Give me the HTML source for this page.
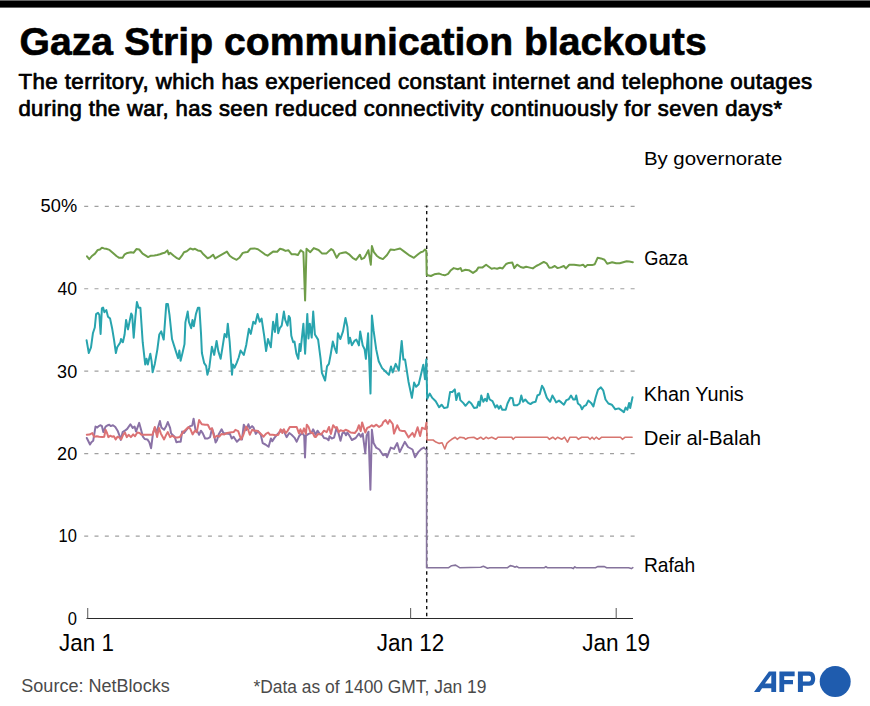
<!DOCTYPE html>
<html><head><meta charset="utf-8"><style>
html,body{margin:0;padding:0;background:#fff;}
body{width:870px;height:706px;overflow:hidden;}
svg{display:block;font-family:"Liberation Sans",sans-serif;}
</style></head><body>
<svg width="870" height="706" viewBox="0 0 870 706">
<rect x="0" y="0.4" width="870" height="7.2" fill="#000"/>
<text transform="translate(19.60 54.50) scale(0.9899 1)" font-size="39.54" font-weight="bold" fill="#000" stroke="#000" stroke-width="0.6" stroke-linejoin="round">Gaza Strip communication blackouts</text>
<text transform="translate(18.40 88.80) scale(1.0386 1)" font-size="21.51" font-weight="normal" fill="#000" stroke="#000" stroke-width="0.75" stroke-linejoin="round" letter-spacing="0.4">The territory, which has experienced constant internet and telephone outages</text>
<text transform="translate(18.40 116.40) scale(1.0250 1)" font-size="21.51" font-weight="normal" fill="#000" stroke="#000" stroke-width="0.75" stroke-linejoin="round" letter-spacing="0.4">during the war, has seen reduced connectivity continuously for seven days*</text>
<text transform="translate(643.90 164.80) scale(1.0800 1)" font-size="18.90" font-weight="normal" fill="#000">By governorate</text>
<text transform="translate(40.60 212.40) scale(0.9653 1)" font-size="18.90" font-weight="normal" fill="#000">50%</text>
<text transform="translate(57.40 294.80) scale(0.9280 1)" font-size="18.90" font-weight="normal" fill="#000">40</text>
<text transform="translate(57.10 377.50) scale(0.9566 1)" font-size="18.90" font-weight="normal" fill="#000">30</text>
<text transform="translate(57.10 460.20) scale(0.9566 1)" font-size="18.90" font-weight="normal" fill="#000">20</text>
<text transform="translate(58.60 542.20) scale(0.8709 1)" font-size="18.90" font-weight="normal" fill="#000">10</text>
<text transform="translate(67.80 624.70) scale(0.8757 1)" font-size="18.90" font-weight="normal" fill="#000">0</text>
<text transform="translate(59.10 650.70) scale(0.9634 1)" font-size="23.26" font-weight="normal" fill="#000">Jan 1</text>
<text transform="translate(376.70 651.00) scale(0.9683 1)" font-size="23.26" font-weight="normal" fill="#000">Jan 12</text>
<text transform="translate(582.20 651.00) scale(0.9740 1)" font-size="23.26" font-weight="normal" fill="#000">Jan 19</text>
<text transform="translate(644.30 265.00) scale(0.9433 1)" font-size="19.33" font-weight="normal" fill="#000">Gaza</text>
<text transform="translate(643.80 401.00) scale(1.0260 1)" font-size="19.33" font-weight="normal" fill="#000">Khan Yunis</text>
<text transform="translate(643.80 444.70) scale(1.0489 1)" font-size="19.33" font-weight="normal" fill="#000">Deir al-Balah</text>
<text transform="translate(643.90 571.70) scale(0.9946 1)" font-size="19.33" font-weight="normal" fill="#000">Rafah</text>
<text transform="translate(21.30 692.40) scale(0.9554 1)" font-size="18.90" font-weight="normal" fill="#4a4a4a">Source: NetBlocks</text>
<text transform="translate(253.40 693.40) scale(0.9212 1)" font-size="18.90" font-weight="normal" fill="#4a4a4a">*Data as of 1400 GMT, Jan 19</text>
<line x1="84.2" y1="536.06" x2="635" y2="536.06" stroke="#a0a0a0" stroke-width="1.2" stroke-dasharray="4 6.31" stroke-dashoffset="0"/>
<line x1="84.2" y1="453.62" x2="635" y2="453.62" stroke="#a0a0a0" stroke-width="1.2" stroke-dasharray="4 6.31" stroke-dashoffset="0"/>
<line x1="84.2" y1="371.18" x2="635" y2="371.18" stroke="#a0a0a0" stroke-width="1.2" stroke-dasharray="4 6.31" stroke-dashoffset="0"/>
<line x1="84.2" y1="288.74" x2="635" y2="288.74" stroke="#a0a0a0" stroke-width="1.2" stroke-dasharray="4 6.31" stroke-dashoffset="0"/>
<line x1="84.2" y1="206.30" x2="635" y2="206.30" stroke="#a0a0a0" stroke-width="1.2" stroke-dasharray="4 6.31" stroke-dashoffset="0"/>
<line x1="86.5" y1="618.5" x2="633" y2="618.5" stroke="#2a2a2a" stroke-width="1.15"/>
<line x1="87.7" y1="608" x2="87.7" y2="618.5" stroke="#666" stroke-width="1.1"/>
<line x1="410.6" y1="608" x2="410.6" y2="618.5" stroke="#666" stroke-width="1.1"/>
<line x1="616.2" y1="608" x2="616.2" y2="618.5" stroke="#666" stroke-width="1.1"/>
<line x1="426.7" y1="205.4" x2="426.7" y2="618.5" stroke="#111" stroke-width="1.4" stroke-dasharray="3.45 3.48" stroke-dashoffset="1.43"/>
<polyline points="86.8,438.0 90.0,444.5 91.4,442.2 93.2,440.8 95.5,426.6 97.3,427.5 98.7,426.1 100.6,425.2 101.9,426.1 103.3,432.1 105.6,426.6 107.9,425.2 109.3,424.7 110.7,426.1 113.0,425.2 115.3,427.0 117.6,430.7 119.4,435.3 120.8,439.9 122.6,432.1 124.9,430.7 127.2,428.9 130.4,424.3 132.7,427.9 134.6,426.6 136.0,431.6 139.2,422.9 140.6,427.9 142.9,436.7 144.7,439.0 147.4,439.4 149.3,442.2 151.1,448.2 153.0,433.4 154.8,427.9 156.6,432.1 159.9,421.0 161.4,427.5 164.1,429.8 166.0,426.6 167.8,422.0 170.1,427.9 171.0,433.0 172.4,434.8 174.7,436.7 176.4,442.2 178.4,441.7 180.7,441.7 182.1,431.6 183.9,433.0 187.6,428.4 190.3,426.1 192.2,425.6 193.6,418.7 195.4,429.3 197.2,431.1 199.1,434.8 200.9,430.7 202.8,433.4 205.1,438.5 207.8,438.5 210.1,437.1 212.0,428.4 213.8,433.9 215.6,442.6 217.0,440.3 218.9,433.9 221.6,429.3 223.4,433.0 226.2,433.4 229.9,433.9 231.7,438.5 233.6,436.7 236.9,441.7 239.7,439.0 242.0,439.4 243.8,424.7 246.1,430.2 248.4,424.3 249.8,428.4 252.1,426.1 253.5,427.5 255.8,433.9 258.1,431.1 260.8,434.8 262.7,443.1 265.4,444.5 268.6,446.8 270.9,438.5 272.3,441.3 274.6,437.6 276.5,435.3 279.2,432.5 282.0,430.2 284.3,432.1 286.6,437.1 289.3,433.0 291.6,434.8 294.4,437.6 296.7,441.7 299.4,435.7 302.2,433.0 304.2,435.7 305.0,457.4 305.9,435.7 308.6,433.9 311.4,433.0 313.1,429.3 315.7,434.8 317.5,430.7 319.4,433.4 322.1,434.8 324.0,438.0 326.7,438.5 328.6,440.3 329.5,436.2 331.8,438.5 334.1,437.6 336.4,428.4 338.2,432.1 340.5,440.8 342.3,433.4 344.2,432.1 346.0,435.3 347.4,432.5 349.2,435.3 351.9,440.0 355.7,438.0 358.9,433.6 360.8,436.8 362.7,433.6 365.3,453.3 366.6,435.5 368.5,431.7 370.4,489.7 371.9,429.8 373.6,443.1 376.1,447.6 379.3,449.5 383.1,455.3 385.7,454.0 387.0,457.2 390.8,447.6 394.0,448.9 397.2,443.1 399.7,452.1 404.8,441.9 408.0,447.0 412.5,449.5 415.0,457.2 418.2,452.1 421.4,448.9 423.9,447.6" fill="none" stroke="#8a72a6" stroke-width="2.0" stroke-linejoin="round" stroke-linecap="round"/>
<polyline points="423.9,447.6 426.6,450.2 426.6,567.7 448.7,567.7 451.6,565.7 455.6,565.1 459.6,567.7 480.7,567.2 483.4,566.3 487.6,568.3 489.7,567.7 507.6,567.7 510.3,565.6 513.1,566.3 515.2,567.2 516.6,566.3 518.6,567.7 544.5,567.7 545.9,566.6 547.2,567.7 571.4,567.7 573.4,568.6 574.8,566.8 576.0,567.7 595.5,567.7 597.6,566.6 604.5,566.6 606.6,567.7 628.6,567.7 631.4,568.6 632.8,567.7" fill="none" stroke="#85739c" stroke-width="1.6" stroke-linejoin="round" stroke-linecap="round"/>
<polyline points="86.8,434.8 89.5,434.6 92.3,433.0 94.1,436.7 96.9,436.2 99.2,436.7 102.4,437.1 104.2,436.7 105.6,429.8 107.0,433.0 108.4,437.1 110.2,435.7 112.0,436.7 113.9,436.2 115.7,439.4 117.6,436.7 119.4,437.6 121.2,439.4 123.1,434.8 124.9,432.5 126.8,437.1 128.6,434.8 130.9,437.1 133.2,434.4 135.0,436.2 137.3,432.5 139.6,433.0 141.5,434.8 148.4,434.8 152.5,434.8 154.8,427.0 157.1,437.1 158.9,427.9 160.8,433.4 164.1,439.4 166.4,434.4 167.8,432.1 170.1,437.1 172.4,435.7 174.7,437.6 177.5,437.6 179.8,437.1 183.0,432.1 185.7,429.8 188.5,427.0 190.3,428.9 192.6,434.4 194.9,430.7 196.8,432.1 199.1,420.1 201.8,424.3 205.1,424.7 207.8,424.7 210.1,429.3 212.0,428.4 214.3,437.6 217.0,435.7 219.3,436.7 221.6,433.9 224.4,434.4 227.1,433.0 229.9,432.5 233.6,432.1 235.4,429.8 238.2,431.1 241.1,439.4 243.4,434.8 246.1,426.6 248.0,429.3 249.8,434.8 252.1,429.8 254.4,430.7 256.7,430.7 259.4,432.5 261.7,434.8 263.6,436.7 265.9,433.9 268.2,432.5 270.0,434.8 272.8,434.8 275.5,435.3 278.3,434.8 280.6,429.3 282.4,433.0 283.8,429.3 285.7,433.0 287.5,431.1 289.8,427.0 293.0,427.0 296.7,427.0 299.0,433.4 300.4,429.3 302.2,433.4 304.0,428.4 305.9,433.9 306.8,424.7 308.6,427.0 310.5,432.5 312.8,433.0 314.6,436.7 315.7,437.1 318.0,433.9 321.2,434.4 324.0,430.7 326.7,432.1 329.0,427.0 330.9,433.9 333.1,425.2 335.4,427.9 336.8,427.0 338.7,432.1 340.5,430.2 343.3,431.1 345.6,429.8 347.9,430.7 350.6,432.5 354.8,433.0 357.1,430.2 358.9,425.2 360.7,431.1 362.1,422.4 364.0,428.4 365.3,432.5 367.2,427.9 369.5,427.0 371.8,425.2 373.6,426.6 376.4,424.7 379.1,427.0 381.9,425.2 383.3,422.0 385.6,420.1 387.9,423.8 389.7,420.1 392.7,424.0 394.0,433.6 397.2,425.3 399.7,430.4 402.3,431.0 404.8,431.0 408.6,437.4 412.5,432.9 414.4,436.8 417.6,427.2 420.1,436.1 422.0,427.8 425.2,429.1 426.5,422.7" fill="none" stroke="#dc7274" stroke-width="2.0" stroke-linejoin="round" stroke-linecap="round"/>
<polyline points="426.5,422.7 427.1,440.0 429.7,440.0 433.1,440.0 435.9,442.1 439.3,443.4 442.1,442.8 444.8,449.0 446.9,443.4 449.0,441.4 451.7,439.3 455.2,437.2 457.2,439.3 460.0,437.2 464.1,437.9 465.5,439.3 468.3,437.7 473.8,437.2 477.2,439.3 480.7,437.2 483.4,439.3 486.2,437.2 488.3,438.6 491.7,437.2 495.9,439.3 497.9,437.2 511.7,437.2 513.1,439.3 515.2,437.2 547.5,437.2 549.3,439.3 552.8,437.2 555.5,439.3 557.6,437.2 561.7,439.3 564.5,437.2 567.5,442.1 570.0,437.2 576.5,437.2 578.3,439.3 581.7,437.2 588.0,437.2 590.0,439.3 592.1,437.2 594.1,439.3 596.2,437.2 599.0,439.3 601.7,437.2 620.5,437.2 622.4,439.3 625.2,437.2 632.1,437.2" fill="none" stroke="#d7756f" stroke-width="1.6" stroke-linejoin="round" stroke-linecap="round"/>
<polyline points="86.6,340.3 88.8,353.0 91.0,347.3 92.9,333.3 94.8,327.5 96.1,314.1 98.0,312.9 99.3,314.8 100.6,333.9 101.9,308.4 103.1,307.5 104.4,312.2 106.3,310.1 108.0,316.7 110.1,318.6 112.1,328.2 114.0,339.6 115.9,353.0 117.2,347.3 120.4,342.2 121.0,339.0 122.9,342.2 124.6,334.5 126.1,319.9 128.0,329.4 131.2,313.5 132.2,315.4 133.7,337.7 135.4,316.7 136.9,302.0 138.6,307.8 140.4,307.8 142.7,342.2 145.2,364.5 146.5,358.8 147.8,364.5 150.3,353.7 151.6,361.3 152.6,372.2 154.8,363.9 157.3,349.8 159.3,334.5 161.2,331.4 163.7,339.6 166.3,303.9 167.9,303.9 169.5,314.8 172.0,339.0 175.8,351.1 178.1,358.1 179.4,350.5 180.6,360.7 182.6,352.4 184.5,344.1 185.4,322.4 187.7,311.6 188.9,321.8 191.2,328.2 192.5,319.9 193.8,326.3 195.9,314.1 197.9,307.8 199.4,307.8 201.0,333.3 201.9,353.0 204.2,363.2 206.1,365.8 207.4,374.7 209.3,367.7 211.9,346.7 214.2,354.9 216.6,340.9 218.3,351.1 220.6,358.8 222.1,349.8 224.6,333.9 226.6,337.1 227.8,323.7 229.7,342.2 232.0,374.7 232.9,364.5 234.6,367.7 236.8,362.6 238.7,357.5 240.6,350.5 243.8,354.9 246.3,344.7 248.9,328.8 250.8,333.9 253.3,321.8 255.3,323.7 257.6,313.9 259.7,321.8 261.6,318.6 264.2,335.8 266.1,351.1 268.0,339.0 270.8,347.3 273.1,321.8 275.0,332.0 276.9,313.9 278.2,333.3 279.8,328.2 281.7,325.6 283.9,311.6 285.2,319.9 287.5,325.6 288.8,316.0 290.0,318.0 291.3,335.8 293.2,342.2 294.5,341.6 296.4,353.7 298.3,358.8 299.6,344.1 300.5,351.1 303.4,323.7 305.1,353.7 307.3,313.9 308.5,338.4 309.8,323.7 311.7,337.6 313.2,311.6 314.9,334.5 318.1,339.6 320.6,358.8 321.9,372.8 325.1,380.5 327.0,366.4 328.9,363.9 330.8,353.7 332.8,341.6 334.7,347.9 336.6,353.0 337.9,333.3 340.4,339.0 343.0,331.4 345.5,318.0 347.4,326.9 348.7,343.5 350.0,337.7 351.9,345.3 354.4,340.9 356.4,339.6 358.9,345.4 360.2,331.4 362.7,345.4 364.6,349.2 365.9,358.8 368.1,333.3 370.5,393.6 371.9,315.4 373.6,330.7 376.2,349.4 378.7,361.3 382.1,368.1 385.5,371.5 388.9,374.9 391.0,366.4 392.7,372.4 395.7,363.9 398.8,370.7 401.7,340.9 403.4,359.6 405.1,359.6 408.5,381.7 411.9,397.9 414.1,382.6 416.1,386.8 418.7,384.3 423.3,364.7 425.0,379.2 426.3,359.6 427.2,398.7 429.7,393.6 432.3,397.9 435.7,401.3 439.1,407.2 441.6,404.7 444.2,408.1 447.6,407.2 450.1,391.9 452.3,392.0 454.8,389.4 456.3,400.1 458.0,393.7 459.2,393.2 460.3,400.1 463.2,402.9 465.5,405.8 469.0,401.6 471.3,403.5 474.1,408.1 477.0,407.5 478.5,401.8 479.7,405.8 481.3,395.5 483.3,401.8 485.1,398.9 486.8,401.2 487.9,393.7 489.7,399.5 492.5,401.2 495.4,407.5 497.1,405.2 498.9,408.7 500.6,405.8 502.3,409.8 505.7,409.8 507.5,403.5 510.3,397.8 512.6,398.3 513.8,405.2 517.2,405.2 519.5,403.5 521.3,395.5 523.0,401.8 525.3,399.5 528.2,402.9 530.5,404.1 532.8,402.4 535.6,401.8 537.4,395.5 539.7,394.3 542.0,385.7 543.7,388.6 546.9,397.8 550.1,401.8 552.4,395.5 554.4,398.9 556.1,402.4 559.0,400.6 561.3,402.4 563.9,404.7 566.4,400.1 568.7,399.3 571.0,395.5 573.3,399.5 575.1,399.5 576.2,395.5 577.9,403.5 580.2,405.2 582.0,409.3 583.7,406.4 586.0,405.2 588.3,400.6 591.1,402.9 593.4,406.4 595.7,397.2 598.0,389.7 600.9,387.4 603.2,390.3 605.5,399.5 608.4,403.5 611.8,404.7 615.3,409.3 618.7,408.4 621.6,410.4 623.9,412.1 625.6,407.5 627.4,409.8 629.1,402.9 630.2,408.1 632.5,397.2" fill="none" stroke="#28a4ae" stroke-width="2.0" stroke-linejoin="round" stroke-linecap="round"/>
<polyline points="87.0,256.4 89.2,259.1 92.3,255.7 95.0,253.6 97.8,249.9 99.9,249.5 101.9,247.7 104.0,248.4 106.1,248.8 109.5,249.9 113.0,252.9 116.4,256.0 119.2,257.8 122.6,257.8 124.7,254.3 127.4,252.9 130.9,252.2 133.7,252.7 136.4,249.1 139.2,249.5 142.6,253.6 145.4,255.4 148.1,257.1 150.9,255.7 154.3,255.4 157.1,255.0 159.9,254.3 162.6,253.2 164.7,252.7 167.4,250.4 168.8,254.3 170.2,252.7 173.7,255.7 176.4,257.8 179.2,259.1 181.9,255.7 184.0,252.2 186.8,251.3 190.2,248.4 193.0,249.5 195.0,248.8 197.8,250.4 200.6,250.9 203.4,254.3 207.6,258.2 210.3,257.1 213.1,254.7 215.2,258.4 218.6,256.4 222.1,254.3 226.9,251.6 229.7,255.7 233.1,258.2 236.6,259.8 239.3,257.8 242.8,252.9 245.5,252.2 247.6,252.0 250.3,248.8 254.5,248.4 257.9,249.2 262.1,252.2 264.8,254.3 267.6,255.7 270.3,253.6 273.1,251.6 277.2,251.8 280.0,248.8 282.8,249.5 285.5,250.9 288.3,250.2 291.7,254.3 295.2,254.3 297.9,255.0 300.7,250.2 303.4,252.2 305.1,300.5 306.5,248.8 310.3,252.2 313.8,248.1 317.2,249.5 318.8,250.2 322.2,253.6 326.3,253.6 329.1,250.9 331.2,249.1 333.2,250.4 336.7,257.8 339.4,253.6 342.9,252.7 345.7,252.2 349.1,254.3 352.6,257.8 356.0,259.8 358.1,257.1 359.9,254.7 361.5,259.1 364.3,257.8 366.3,254.3 368.4,250.2 370.8,264.7 371.9,246.0 373.9,252.2 376.7,255.7 379.4,257.8 382.9,259.1 387.0,255.0 390.5,249.5 394.6,249.9 400.1,248.5 404.3,251.6 409.8,255.7 413.9,257.8 418.1,254.3 420.8,252.2 422.9,251.6 425.0,249.5 426.3,250.9 426.7,275.0 430.9,276.0 434.3,274.3 439.2,273.6 441.9,274.6 444.7,275.3 448.1,273.9 450.9,270.2 453.7,268.1 457.8,269.2 460.6,268.1 461.9,271.1 465.4,269.8 468.8,270.2 473.0,272.9 476.4,270.6 478.5,267.4 482.6,267.4 486.1,264.7 488.8,266.7 491.6,268.8 494.3,268.1 497.1,268.8 499.9,267.8 502.6,268.4 506.1,264.0 508.8,262.9 512.3,262.6 514.3,268.1 517.1,264.7 520.6,267.0 523.3,267.8 526.1,266.7 528.8,267.4 532.8,268.4 536.2,266.0 539.0,264.7 543.8,261.9 546.6,263.3 549.3,267.8 552.1,267.4 554.8,266.0 557.6,268.1 560.3,267.4 563.8,266.0 565.9,268.4 569.3,264.7 574.1,264.7 579.7,265.6 583.1,264.7 585.2,267.0 587.2,265.1 592.1,265.1 594.8,264.2 597.6,257.8 601.0,258.4 604.5,259.8 607.2,263.7 612.1,262.3 616.2,263.3 619.7,263.3 626.6,261.2 629.3,261.5 632.8,262.2" fill="none" stroke="#6f9d48" stroke-width="2.0" stroke-linejoin="round" stroke-linecap="round"/>
<g fill="#1f5cae"><path d="M754.0 692.0 L768.9 671.4 L776.15 671.4 L776.15 692.0 L771.3 692.0 L771.3 688.3 L762.07 688.3 L759.65 692.0 Z M764.9 683.5 L771.3 683.5 L771.3 675.06 Z" fill-rule="evenodd"/><path d="M779.4 671.4 L794.65 671.4 L794.65 676.26 L784.2 676.26 L784.2 679.9 L793.0 679.9 L793.0 684.3 L784.2 684.3 L784.2 692.0 L779.4 692.0 Z"/><path d="M797.9 671.4 L809.5 671.4 C813.5 671.4 815.2 674.5 815.2 678.6 C815.2 682.7 813.5 685.85 809.5 685.85 L802.9 685.85 L802.9 692.0 L797.9 692.0 Z M802.9 675.7 L808.8 675.7 C810.4 675.7 811.0 676.9 811.0 678.6 C811.0 680.3 810.4 681.5 808.8 681.5 L802.9 681.5 Z" fill-rule="evenodd"/><circle cx="835.2" cy="681.6" r="15.5"/></g>
</svg>
</body></html>
